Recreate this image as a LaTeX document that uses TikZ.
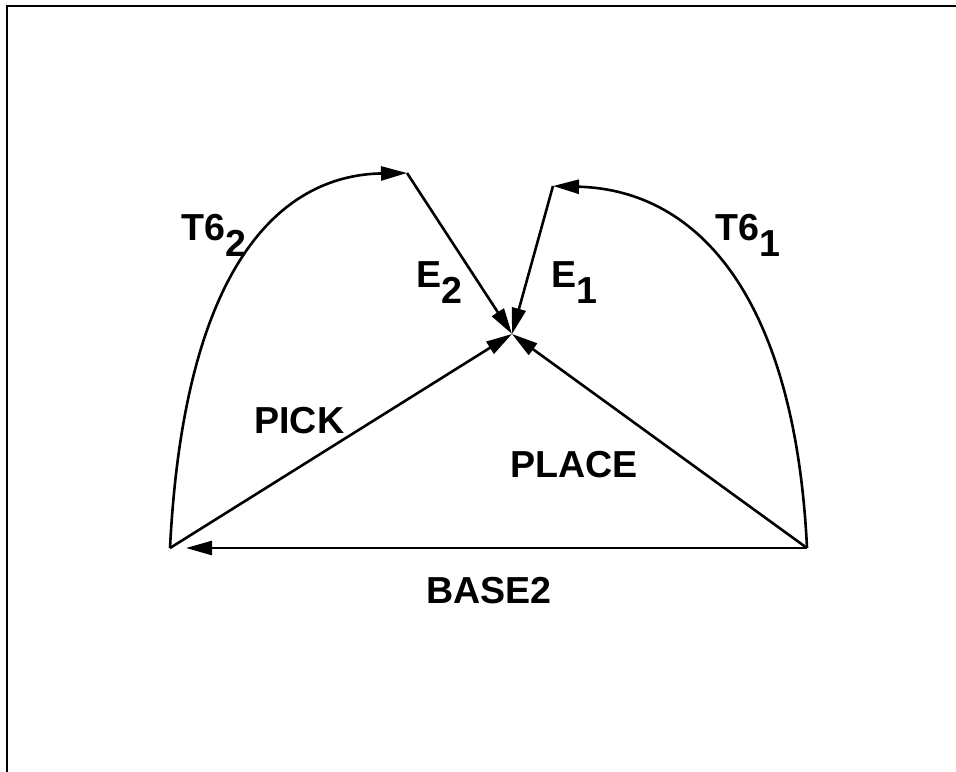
\documentclass[tikz,border=0pt]{standalone}
\usepackage{fontspec}
\setmainfont{Liberation Sans}
\usetikzlibrary{arrows.meta,positioning}
\newcommand{\lsub}[1]{\raisebox{-8pt}{#1}}
\tikzset{>={Triangle[length=13pt,width=7pt]},
 every node/.style={font=\fontsize{18.8}{20}\selectfont\bfseries,inner sep=0pt,anchor=base west},
 arr/.style={->,line width=1.3pt},
 frame/.style={line width=1.4pt},
 }
\begin{document}
\begin{tikzpicture}[x=.5pt,y=-.5pt]
 \useasboundingbox (0,0) rectangle (956,771);
 \draw[frame] (960,6) -| (7,775);
 % corner points
 \coordinate (hub) at (512,334);
 \coordinate (lft) at (170,548);
 \coordinate (rgt) at (807,548);
 \coordinate (top2) at (407,173);
 \coordinate (top1) at (553,186);
 % straight moves
 \draw[arr,shorten >=8pt] (rgt) -- (lft);
 \draw[arr] (lft) -- (hub);
 \draw[arr] (rgt) -- (hub);
 \draw[arr] (top2) -- (hub);
 \draw[arr] (top1) -- (hub);
 % curved moves
 \draw[arr] (lft) .. controls (185,250) and (290,175) .. (top2);
 \draw[arr] (rgt) .. controls (795,300) and (700,190) .. (top1);
 % labels
 \node (t62) at (181,240) {T6\lsub{2}};
 \node (e2) at (416,287) {E\lsub{2}};
 \node (e1) at (551,287) {E\lsub{1}};
 \node (t61) at (715,240) {T6\lsub{1}};
 \node (pick) at (254,433) {PICK};
 \node (place) at (510,477) {PLACE};
 \node (base) at (426,603) {BASE2};
\end{tikzpicture}
\end{document}
